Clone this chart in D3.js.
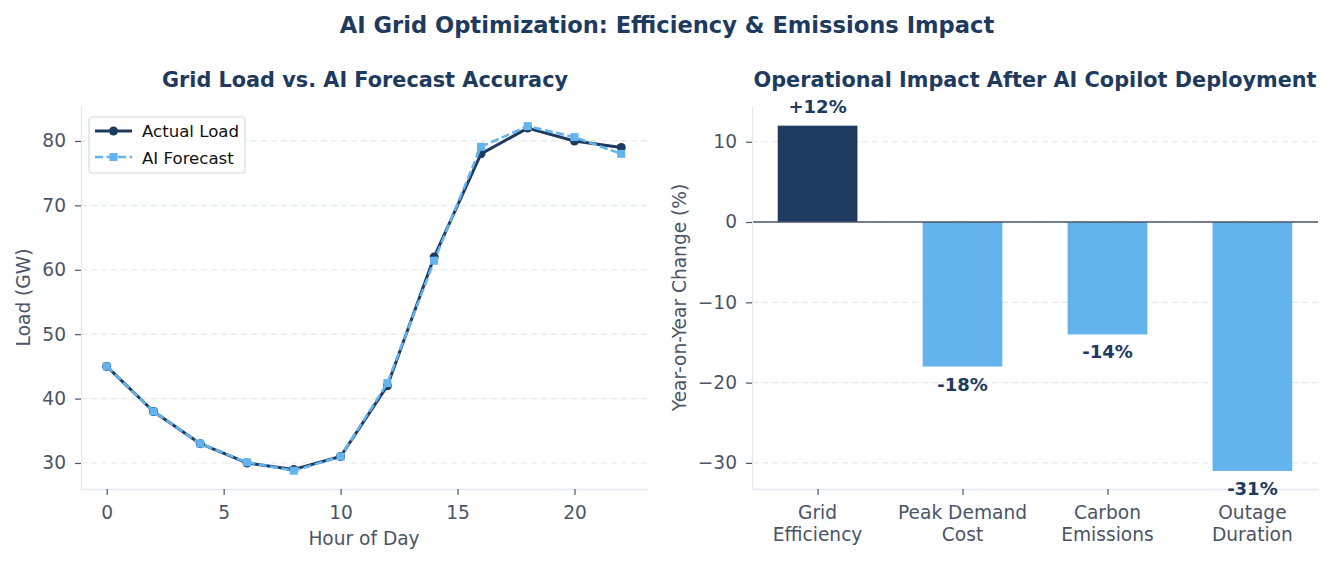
<!DOCTYPE html>
<html>
<head>
<meta charset="utf-8">
<script src="https://cdn.jsdelivr.net/npm/d3@7"></script>
<style>
  body { margin: 0; background: #fff; }
  svg { font-family: 'DejaVu Sans', sans-serif; }
</style>
</head>
<body>
<svg id="chart" width="1334" height="565"></svg>
<script>
const hours = [0, 2, 4, 6, 8, 10, 12, 14, 16, 18, 20, 22]
const actualLoad = [45, 38, 33, 30, 29, 31, 42, 62, 78, 82, 80, 79]
const aiForecast = [45, 38, 33, 30.1, 28.8, 31, 42.4, 61.4, 79.1, 82.3, 80.6, 78]
const loadTicks = [30, 40, 50, 60, 70, 80]
const hourTicks = [0, 5, 10, 15, 20]

const impactCats = [['Grid', 'Efficiency'], ['Peak Demand', 'Cost'], ['Carbon', 'Emissions'], ['Outage', 'Duration']]
const impactVals = [12, -18, -14, -31]
const impactLabels = ['+12%', '-18%', '-14%', '-31%']
const impactTicks = [-30, -20, -10, 0, 10]

const navy = '#1e3a5f', sky = '#63b3ed', grey = '#4a5568', light = '#e2e8f0'
const tickFont = 18.6

const svg = d3.select('#chart')

svg.append('text')
  .attr('x', 667).attr('y', 33)
  .attr('text-anchor', 'middle')
  .attr('font-size', 22.6).attr('font-weight', 'bold')
  .attr('fill', navy)
  .text('AI Grid Optimization: Efficiency & Emissions Impact')

function styleAxis(a) {
  a.select('.domain').attr('stroke', light).attr('stroke-width', 1.3)
  a.selectAll('.tick line').attr('stroke', grey).attr('stroke-width', 1.2)
  a.selectAll('.tick text').attr('fill', grey).attr('font-size', tickFont)
    .attr('font-family', 'DejaVu Sans')
}

// ---- left panel: load vs forecast
function makeLoad() {
  const L = 81, R = 647, T = 106, B = 489
  const g = svg.append('g')
  const x = d3.scaleLinear().domain([-1.1, 23.1]).range([L, R])
  const y = d3.scaleLinear().domain([25.96, 85.43]).range([B, T])

  g.selectAll('line.grid').data(loadTicks).enter().append('line')
    .attr('x1', L).attr('x2', R)
    .attr('y1', (d) => y(d)).attr('y2', (d) => y(d))
    .attr('stroke', light).attr('stroke-width', 1.2).attr('stroke-dasharray', '6,4')

  const ax = g.append('g').attr('transform', `translate(0,${B})`)
    .call(d3.axisBottom(x).tickValues(hourTicks).tickSize(6).tickSizeOuter(0).tickPadding(11))
  const ay = g.append('g').attr('transform', `translate(${L},0)`)
    .call(d3.axisLeft(y).tickValues(loadTicks).tickSize(6).tickSizeOuter(0).tickPadding(9))
  styleAxis(ax)
  styleAxis(ay)

  g.append('text').attr('x', (L + R) / 2).attr('y', 545).attr('text-anchor', 'middle')
    .attr('font-size', tickFont).attr('fill', grey).text('Hour of Day')
  g.append('text').attr('transform', `translate(30,${(T + B) / 2}) rotate(-90)`)
    .attr('text-anchor', 'middle').attr('font-size', tickFont).attr('fill', grey).text('Load (GW)')
  g.append('text').attr('x', (L + R) / 2 + 1).attr('y', 87).attr('text-anchor', 'middle')
    .attr('font-size', 20.8).attr('font-weight', 'bold').attr('fill', navy)
    .text('Grid Load vs. AI Forecast Accuracy')

  const line = (vals) => d3.line().x((d, i) => x(hours[i])).y((d) => y(d))(vals)

  g.append('path').attr('d', line(actualLoad)).attr('fill', 'none')
    .attr('stroke', navy).attr('stroke-width', 3).attr('stroke-linejoin', 'round')
  g.selectAll('circle.act').data(actualLoad).enter().append('circle')
    .attr('cx', (d, i) => x(hours[i])).attr('cy', (d) => y(d)).attr('r', 4.5)
    .attr('fill', navy)

  g.append('path').attr('d', line(aiForecast)).attr('fill', 'none')
    .attr('stroke', sky).attr('stroke-width', 2.6).attr('stroke-dasharray', '8,3.5')
  g.selectAll('rect.fc').data(aiForecast).enter().append('rect')
    .attr('x', (d, i) => x(hours[i]) - 4).attr('y', (d) => y(d) - 4)
    .attr('width', 8).attr('height', 8).attr('fill', sky)

  // legend
  const lg = g.append('g').attr('transform', 'translate(89,117)')
  lg.append('rect').attr('width', 156).attr('height', 56).attr('rx', 3)
    .attr('fill', '#fff').attr('stroke', '#d6dbe1').attr('stroke-width', 1.2)
  lg.append('line').attr('x1', 6).attr('x2', 43).attr('y1', 14).attr('y2', 14)
    .attr('stroke', navy).attr('stroke-width', 3)
  lg.append('circle').attr('cx', 24.5).attr('cy', 14).attr('r', 4.5).attr('fill', navy)
  lg.append('line').attr('x1', 6).attr('x2', 43).attr('y1', 40).attr('y2', 40)
    .attr('stroke', sky).attr('stroke-width', 2.6).attr('stroke-dasharray', '8,3.5')
  lg.append('rect').attr('x', 20.5).attr('y', 36).attr('width', 8).attr('height', 8).attr('fill', sky)
  lg.append('text').attr('x', 53).attr('y', 20).attr('font-size', 16.6).attr('fill', '#111')
    .text('Actual Load')
  lg.append('text').attr('x', 53).attr('y', 47).attr('font-size', 16.6).attr('fill', '#111')
    .text('AI Forecast')
}

// ---- right panel: impact bars
function makeImpact() {
  const L = 752, R = 1318, T = 106, B = 489
  const g = svg.append('g')
  const x = d3.scaleLinear().domain([-0.4525, 3.4525]).range([L, R])
  const y = d3.scaleLinear().domain([-33.25, 14.45]).range([B, T])
  const bw = 0.55

  g.selectAll('line.grid').data(impactTicks).enter().append('line')
    .attr('x1', L).attr('x2', R)
    .attr('y1', (d) => y(d)).attr('y2', (d) => y(d))
    .attr('stroke', light).attr('stroke-width', 1.2).attr('stroke-dasharray', '6,4')

  g.selectAll('rect.bar').data(impactVals).enter().append('rect')
    .attr('x', (d, i) => x(i - bw / 2))
    .attr('width', x(bw) - x(0))
    .attr('y', (d) => y(Math.max(0, d)))
    .attr('height', (d) => Math.abs(y(d) - y(0)))
    .attr('fill', (d) => (d > 0 ? navy : sky))

  g.append('line').attr('x1', L).attr('x2', R).attr('y1', y(0)).attr('y2', y(0))
    .attr('stroke', grey).attr('stroke-width', 1.4)

  const ax = g.append('g').attr('transform', `translate(0,${B})`)
    .call(d3.axisBottom(x).tickValues(d3.range(impactCats.length)).tickSize(6).tickSizeOuter(0).tickFormat(''))
  const ay = g.append('g').attr('transform', `translate(${L},0)`)
    .call(d3.axisLeft(y).tickValues(impactTicks).tickSize(6).tickSizeOuter(0).tickPadding(9)
      .tickFormat((d) => (d < 0 ? '\u2212' + Math.abs(d) : d)))
  styleAxis(ax)
  styleAxis(ay)

  const cat = g.selectAll('text.cat').data(impactCats).enter().append('text')
    .attr('text-anchor', 'middle').attr('font-size', tickFont).attr('fill', grey)
  cat.selectAll('tspan').data((d, i) => d.map((s) => [s, i])).enter().append('tspan')
    .attr('x', (d) => x(d[1])).attr('y', (d, j) => 519 + j * 22)
    .text((d) => d[0])

  g.selectAll('text.val').data(impactVals).enter().append('text')
    .attr('x', (d, i) => x(i))
    .attr('y', (d) => (d > 0 ? y(d) - 13 : y(d) + 24))
    .attr('text-anchor', 'middle').attr('font-size', 18).attr('font-weight', 'bold')
    .attr('fill', navy)
    .text((d, i) => impactLabels[i])

  g.append('text').attr('transform', `translate(686,${(T + B) / 2}) rotate(-90)`)
    .attr('text-anchor', 'middle').attr('font-size', tickFont).attr('fill', grey)
    .text('Year-on-Year Change (%)')
  g.append('text').attr('x', (L + R) / 2).attr('y', 87).attr('text-anchor', 'middle')
    .attr('font-size', 20.8).attr('font-weight', 'bold').attr('fill', navy)
    .text('Operational Impact After AI Copilot Deployment')
}

makeLoad()
makeImpact()
</script>
</body>
</html>
